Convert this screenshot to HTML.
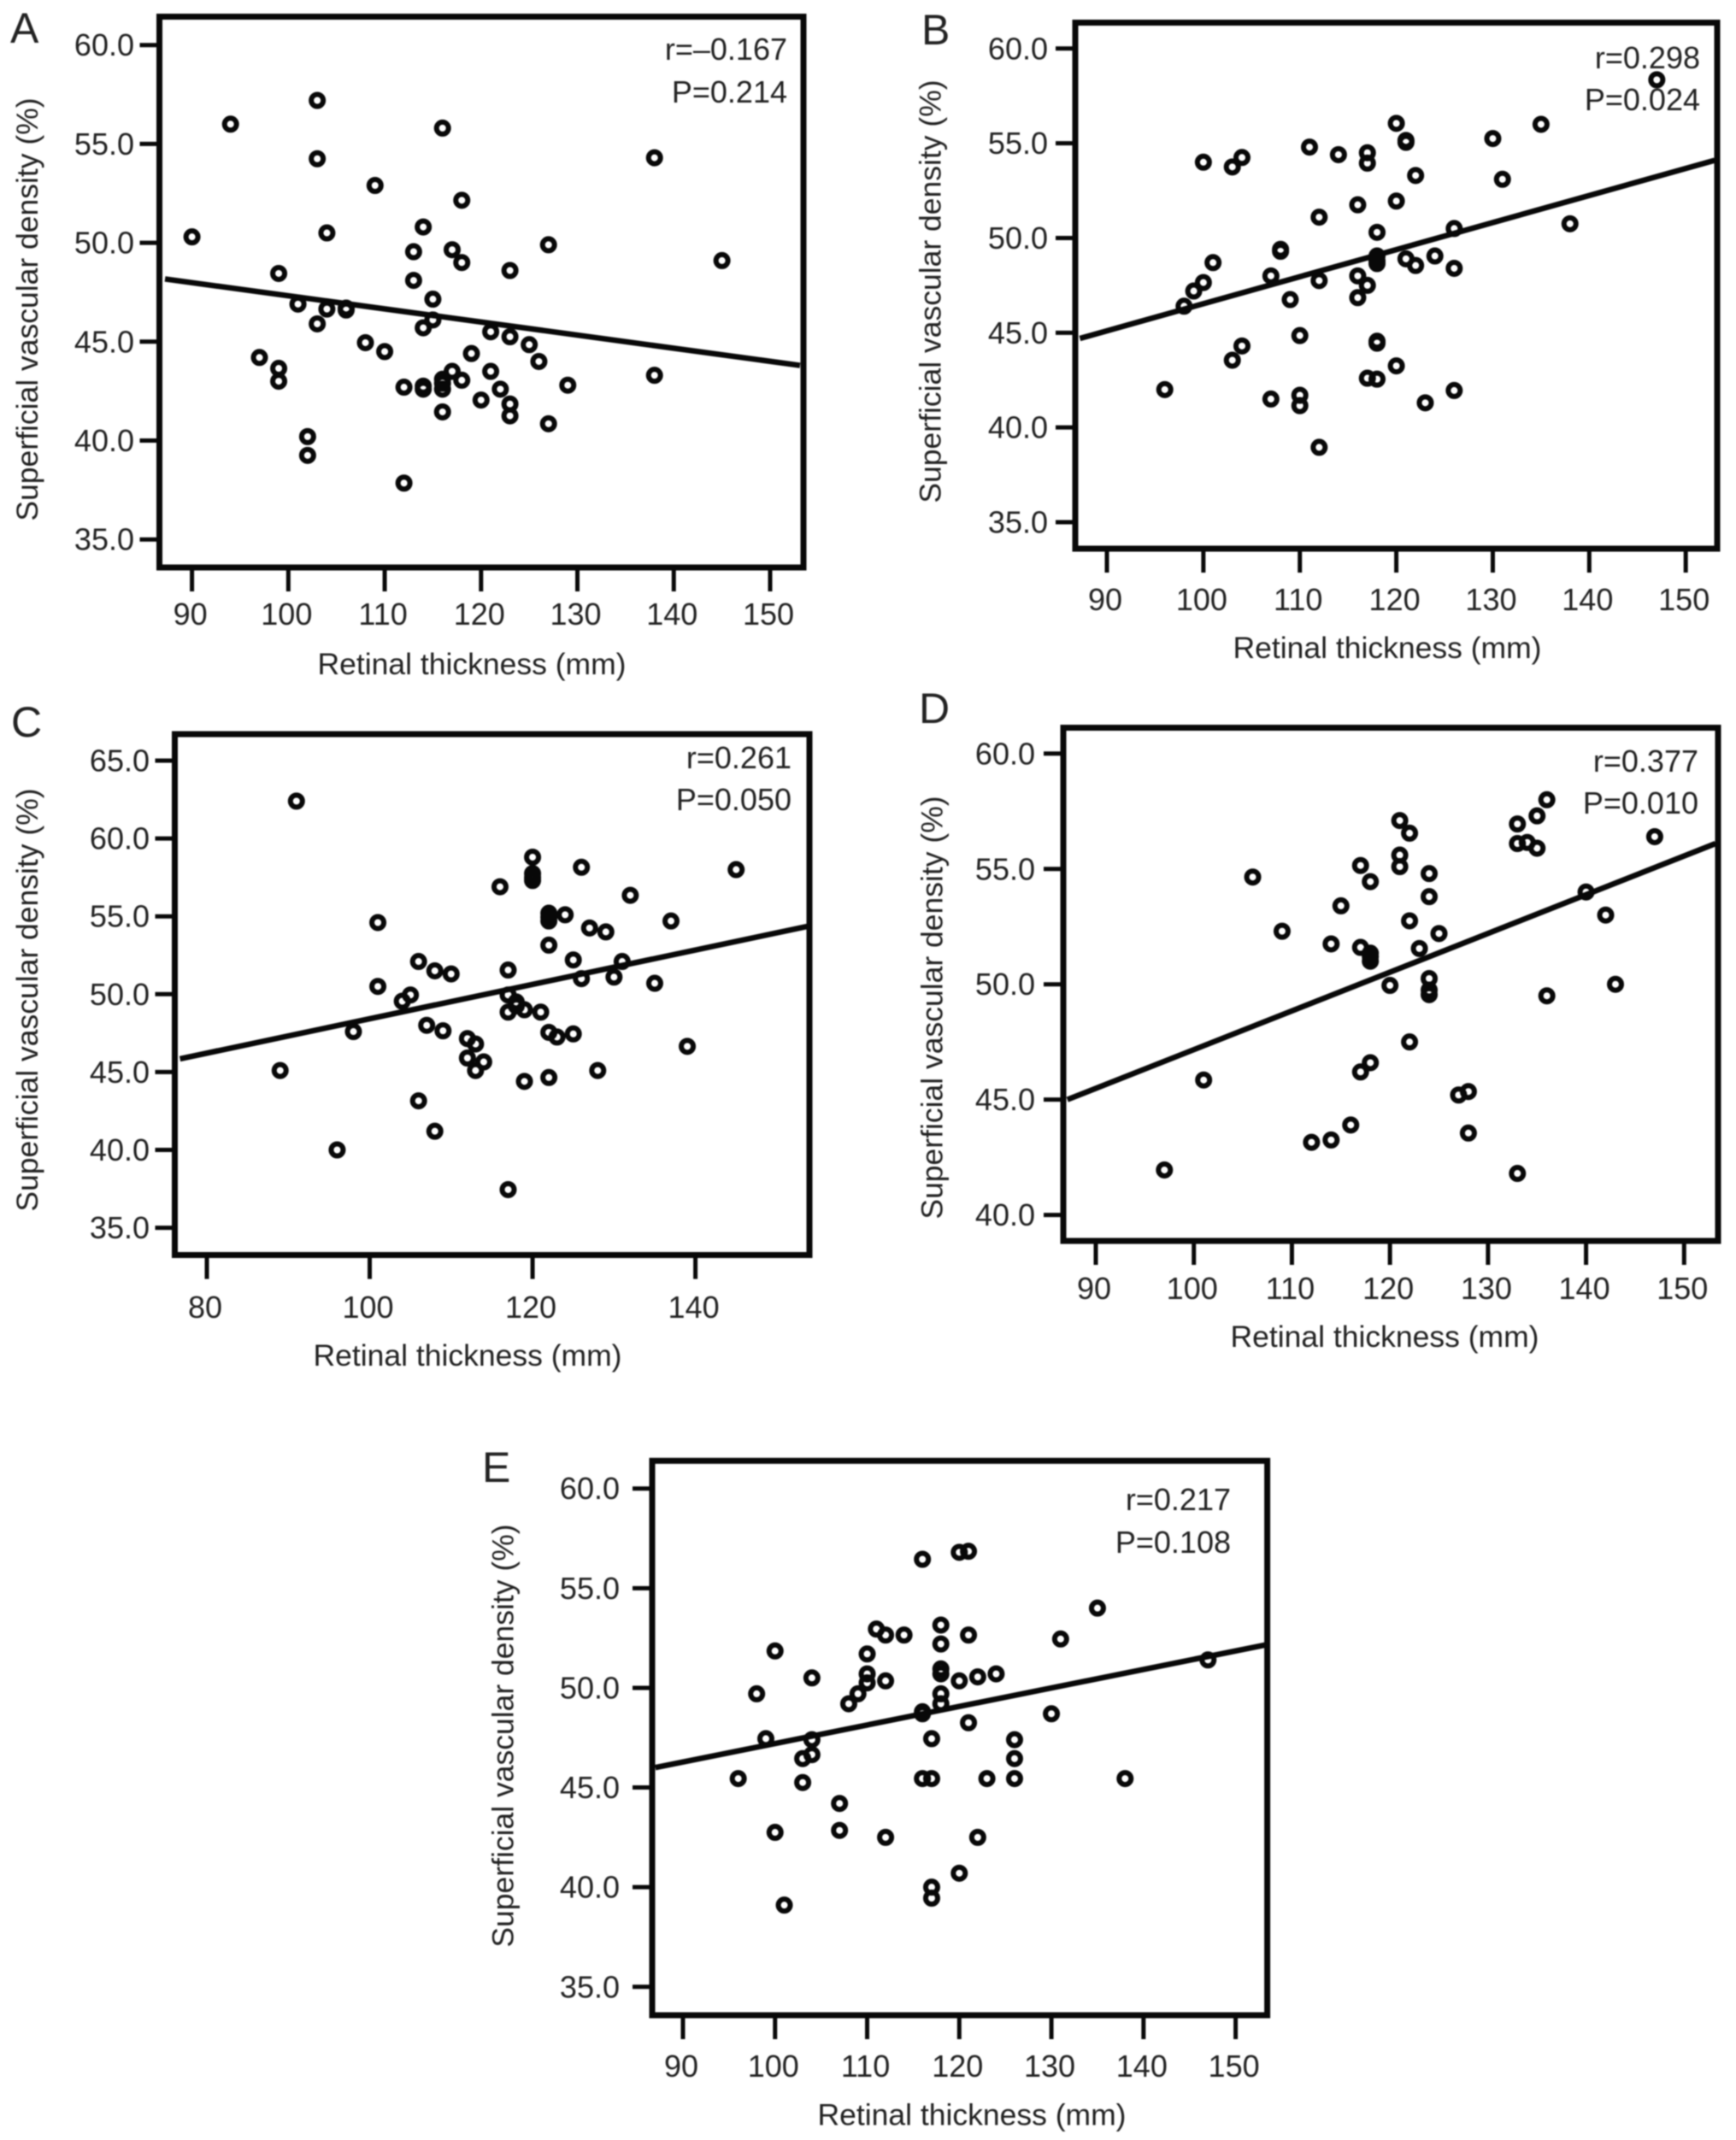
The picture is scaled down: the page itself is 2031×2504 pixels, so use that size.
<!DOCTYPE html>
<html lang="en">
<head>
<meta charset="utf-8">
<title>Superficial vascular density vs retinal thickness</title>
<style>
html,body{margin:0;padding:0;background:#fff;}
svg{display:block;font-family:"Liberation Sans",sans-serif;filter:blur(0.7px);}
text{fill:#222;}
</style>
</head>
<body>
<svg id="figure" xmlns="http://www.w3.org/2000/svg" width="2031" height="2504" viewBox="0 0 2031 2504"></svg>
<script>
// ---------- Data ----------
const xTicksStandard = [90,100,110,120,130,140,150];
const xTicksPanelC = [80,100,120,140];
const yTicksPanelA = [60,55,50,45,40,35];
const yTicksPanelB = [60,55,50,45,40,35];
const yTicksPanelC = [65,60,55,50,45,40,35];
const yTicksPanelD = [60,55,50,45,40];
const yTicksPanelE = [60,55,50,45,40,35];
const xAxisTitle = "Retinal thickness (mm)";
const yAxisTitle = "Superficial vascular density (%)";

const panelAThickness = [90,94,103,103,116,109,118,104,114,113,117,118,113,127,123,99,145,138,115,101,104,106,106,115,114,103,121,123,125,108,110,119,126,97,99,99,117,121,116,118,112,114,114,116,116,122,120,123,123,116,127,129,138,102,102,112];
const panelADensity = [50.3,56.0,57.2,54.25,55.8,52.9,52.15,50.5,50.8,49.55,49.65,49.0,48.1,49.9,48.6,48.45,49.1,54.3,47.15,46.9,46.65,46.7,46.6,46.1,45.7,45.9,45.5,45.25,44.85,44.95,44.5,44.4,44.0,44.2,43.65,43.0,43.5,43.5,43.1,43.05,42.7,42.75,42.6,42.9,42.6,42.6,42.05,41.85,41.25,41.45,40.85,42.8,43.3,40.2,39.25,37.85];
const panelALineX = [87.2,153.1];
const panelALineY = [48.17,43.8];

const panelBThickness = [147,135,120,121,121,130,111,114,117,117,104,103,100,122,131,120,116,112,118,126,138,108,108,101,118,118,118,121,122,124,126,107,116,112,117,100,99,98,116,109,110,118,118,104,103,120,117,118,96,126,107,110,110,123,112];
const panelBDensity = [58.35,56.0,56.05,55.15,55.05,55.25,54.8,54.4,54.5,53.95,54.25,53.75,54.0,53.3,53.1,51.95,51.75,51.1,50.3,50.5,50.75,49.4,49.3,48.7,49.05,48.8,48.65,48.9,48.55,49.05,48.4,48.0,48.0,47.75,47.5,47.65,47.2,46.4,46.85,46.75,44.85,44.55,44.45,44.3,43.55,43.25,42.6,42.55,42.0,41.95,41.5,41.7,41.15,41.3,38.95];
const panelBLineX = [87.2,153];
const panelBLineY = [44.7,54.1];

const panelCThickness = [91,120,120,120,120,126,145,116,132,101,122,122,122,124,127,129,137,122,106,125,131,108,110,117,126,130,135,101,105,104,117,118,118,119,117,121,107,109,98,122,123,125,112,113,112,114,113,89,128,139,119,122,106,108,96,117];
const panelCDensity = [62.4,58.8,57.75,57.5,57.3,58.15,58.0,56.9,56.35,54.6,55.2,54.95,54.7,55.1,54.25,54.0,54.7,53.15,52.1,52.2,52.1,51.5,51.3,51.55,51.0,51.1,50.7,50.5,49.95,49.55,49.95,49.5,49.25,49.0,48.85,48.85,48.0,47.65,47.6,47.55,47.25,47.45,47.15,46.8,45.9,45.65,45.1,45.1,45.1,46.65,44.4,44.65,43.15,41.2,40.0,37.45];
const panelCLineX = [76.7,153.7];
const panelCLineY = [45.85,54.35];

const panelDThickness = [136,135,133,121,122,147,133,134,135,121,121,117,124,118,106,124,115,140,142,122,109,125,114,117,123,118,118,118,124,120,143,124,124,136,122,118,117,101,128,127,116,128,114,112,97,133];
const panelDDensity = [58.0,57.3,56.95,57.1,56.55,56.4,56.1,56.15,55.9,55.6,55.1,55.15,54.8,54.45,54.65,53.8,53.4,54.0,53.0,52.75,52.3,52.2,51.75,51.6,51.55,51.35,51.2,51.0,50.25,49.95,50.0,49.75,49.55,49.5,47.5,46.6,46.2,45.85,45.35,45.2,43.9,43.55,43.25,43.15,41.95,41.8];
const panelDLineX = [87.1,153.2];
const panelDLineY = [45.0,56.1];

const panelEThickness = [116,120,121,135,118,111,112,114,121,131,118,100,110,147,118,118,110,110,104,112,120,122,124,109,98,118,108,118,116,116,121,130,99,104,117,126,104,103,126,96,116,117,123,126,138,103,107,107,100,112,122,120,117,117,101];
const panelEDensity = [56.45,56.8,56.85,54.0,53.15,52.95,52.65,52.65,52.65,52.45,52.2,51.85,51.7,51.4,50.95,50.7,50.7,50.25,50.5,50.35,50.35,50.55,50.7,49.7,49.7,49.7,49.2,49.2,48.8,48.7,48.25,48.7,47.45,47.4,47.45,47.4,46.65,46.45,46.45,45.45,45.45,45.45,45.45,45.45,45.45,45.25,44.2,42.85,42.75,42.5,42.5,40.7,40.0,39.45,39.1];
const panelELineX = [87,153.2];
const panelELineY = [46.0,52.15];

// ---------- Panel layouts ----------
const panels = [
 {id:"a",letter:"A",stat1:"r=\u20130.167",stat2:"P=0.214",xs:panelAThickness,ys:panelADensity,lx:panelALineX,ly:panelALineY,xTicks:xTicksStandard,yTicks:yTicksPanelA,
  L:186.5,R:940,T:19.5,B:664,xA:224.6,xB:901,yA:52.7,yB:631.2,yLabR:157,xLabY:731,xTitleY:789,xTitleX:552,yTitleX:44,yTitleY:362,statR:921,stat1Y:70,stat2Y:120,letX:12,letY:50},
 {id:"b",letter:"B",stat1:"r=0.298",stat2:"P=0.024",xs:panelBThickness,ys:panelBDensity,lx:panelBLineX,ly:panelBLineY,xTicks:xTicksStandard,yTicks:yTicksPanelB,
  L:1258,R:2009,T:26.5,B:642,xA:1295,xB:1972.2,yA:56.8,yB:611,yLabR:1226,xLabY:714,xTitleY:770,xTitleX:1623,yTitleX:1100.5,yTitleY:341,statR:1989,stat1Y:80,stat2Y:129,letX:1078,letY:52},
 {id:"c",letter:"C",stat1:"r=0.261",stat2:"P=0.050",xs:panelCThickness,ys:panelCDensity,lx:panelCLineX,ly:panelCLineY,xTicks:xTicksPanelC,yTicks:yTicksPanelC,
  L:204.5,R:947,T:859,B:1468.5,xA:242,xB:813.6,yA:890,yB:1436.6,yLabR:175,xLabY:1542,xTitleY:1598,xTitleX:547,yTitleX:44,yTitleY:1170,statR:926,stat1Y:899,stat2Y:948,letX:13,letY:862},
 {id:"d",letter:"D",stat1:"r=0.377",stat2:"P=0.010",xs:panelDThickness,ys:panelDDensity,lx:panelDLineX,ly:panelDLineY,xTicks:xTicksStandard,yTicks:yTicksPanelD,
  L:1244,R:2010,T:851.5,B:1452,xA:1282,xB:1970.3,yA:881.8,yB:1421.6,yLabR:1211,xLabY:1520,xTitleY:1576,xTitleX:1620,yTitleX:1102.5,yTitleY:1179,statR:1987,stat1Y:903,stat2Y:952,letX:1075,letY:846},
 {id:"e",letter:"E",stat1:"r=0.217",stat2:"P=0.108",xs:panelEThickness,ys:panelEDensity,lx:panelELineX,ly:panelELineY,xTicks:xTicksStandard,yTicks:yTicksPanelE,
  L:763,R:1482.6,T:1709.3,B:2358,xA:799,xB:1445.6,yA:1741.7,yB:2324.8,yLabR:725,xLabY:2430,xTitleY:2486.6,xTitleX:1137,yTitleX:600.6,yTitleY:2031,statR:1440,stat1Y:1767,stat2Y:1817,letX:564,letY:1734}
];

// ---------- Drawing ----------
const SVG_NS = "http://www.w3.org/2000/svg";
const INK = "#080808";
const figure = document.getElementById("figure");

function make(tag, attrs, parent){
  const el = document.createElementNS(SVG_NS, tag);
  for (const k in attrs) el.setAttribute(k, attrs[k]);
  parent.appendChild(el);
  return el;
}
function linearScale(d0, d1, r0, r1){
  return function(v){ return r0 + (v - d0) / (d1 - d0) * (r1 - r0); };
}

panels.forEach(function(p){
  const xScale = linearScale(p.xTicks[0], p.xTicks[p.xTicks.length-1], p.xA, p.xB);
  const yScale = linearScale(p.yTicks[0], p.yTicks[p.yTicks.length-1], p.yA, p.yB);

  const g = make("g", {}, figure);
  
  

  const letter = make("text", {x:p.letX, y:p.letY, "font-size":50}, g);
  letter.textContent = p.letter;
  
  

  // y axis ticks and labels
  p.yTicks.forEach(function(t){
    const y = yScale(t);
    const tick = make("line", {x1:p.L-23, x2:p.L, y1:y, y2:y, stroke:INK, "stroke-width":5}, g);
    
    
    const lab = make("text", {x:p.yLabR, y:y+12.5, "font-size":36, "text-anchor":"end"}, g);
    lab.textContent = t.toFixed(1);
    
    
  });

  // x axis ticks and labels
  p.xTicks.forEach(function(t){
    const x = xScale(t);
    const tick = make("line", {x1:x, x2:x, y1:p.B, y2:p.B+28, stroke:INK, "stroke-width":5}, g);
    
    
    const lab = make("text", {x:x-2, y:p.xLabY, "font-size":36, "text-anchor":"middle"}, g);
    lab.textContent = String(t);
    
    
  });

  // regression line
  const line = make("line", {x1:xScale(p.lx[0]), y1:yScale(p.ly[0]), x2:xScale(p.lx[1]), y2:yScale(p.ly[1]), stroke:INK, "stroke-width":6.5}, g);
  
  

  // points
  p.xs.forEach(function(v, i){
    const pt = make("circle", {cx:xScale(v), cy:yScale(p.ys[i]), r:7, fill:"none", stroke:INK, "stroke-width":6}, g);
    
    
  });

  // frame
  const frame = make("rect", {x:p.L, y:p.T, width:p.R-p.L, height:p.B-p.T, fill:"none", stroke:INK, "stroke-width":7}, g);
  
  

  // titles
  const xt = make("text", {x:p.xTitleX, y:p.xTitleY, "font-size":35.5, "text-anchor":"middle"}, g);
  xt.textContent = xAxisTitle;
  
  

  const yt = make("text", {x:p.yTitleX, y:p.yTitleY, "font-size":35.5, "text-anchor":"middle", transform:"rotate(-90 " + p.yTitleX + " " + p.yTitleY + ")"}, g);
  yt.textContent = yAxisTitle;
  
  

  // statistics
  const s1 = make("text", {x:p.statR, y:p.stat1Y, "font-size":36, "text-anchor":"end"}, g);
  s1.textContent = p.stat1;
  
  

  const s2 = make("text", {x:p.statR, y:p.stat2Y, "font-size":36, "text-anchor":"end"}, g);
  s2.textContent = p.stat2;
  
  
});
</script>
</body>
</html>
